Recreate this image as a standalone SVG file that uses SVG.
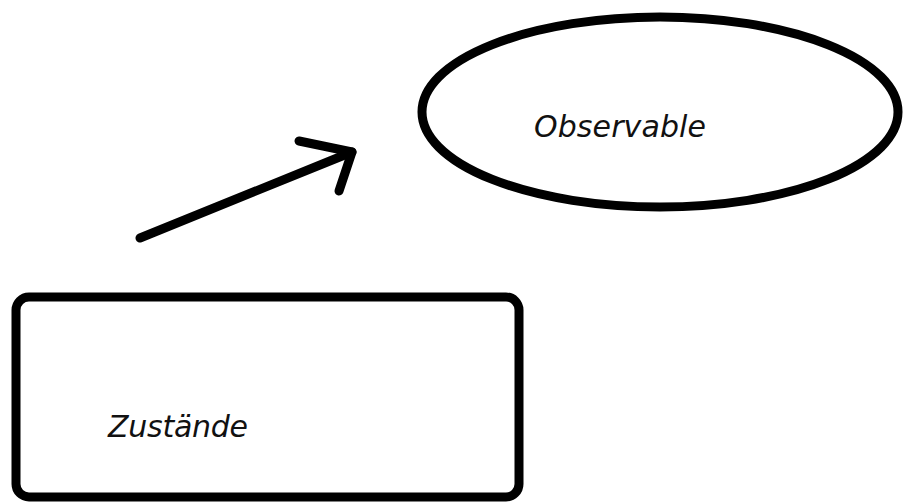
<svg xmlns="http://www.w3.org/2000/svg" width="904" height="502" viewBox="0 0 904 502">
  <style>
    .shape { fill: none; stroke: #000; stroke-width: 9; }
    .conn { fill: none; stroke: #000; stroke-width: 9; stroke-linecap: round; stroke-linejoin: round; }
    .label { font-family: "DejaVu Sans", "Liberation Sans", sans-serif; font-style: italic; font-size: 30px; fill: #111; }
  </style>
  <rect width="904" height="502" fill="#fff"/>
  <g id="observable">
    <ellipse class="shape" cx="660" cy="112" rx="238" ry="95"/>
    <text class="label" x="534" y="137" textLength="172">Observable</text>
  </g>
  <g id="zustaende">
    <rect class="shape" x="16" y="297" width="503" height="200" rx="13" ry="13"/>
    <text class="label" x="108" y="437" textLength="140">Zustände</text>
  </g>
  <g id="connectors">
    <path class="conn" d="M140 238 L352 152"/>
    <path class="conn" d="M299 141 L352 152 L339 191"/>
  </g>
</svg>
